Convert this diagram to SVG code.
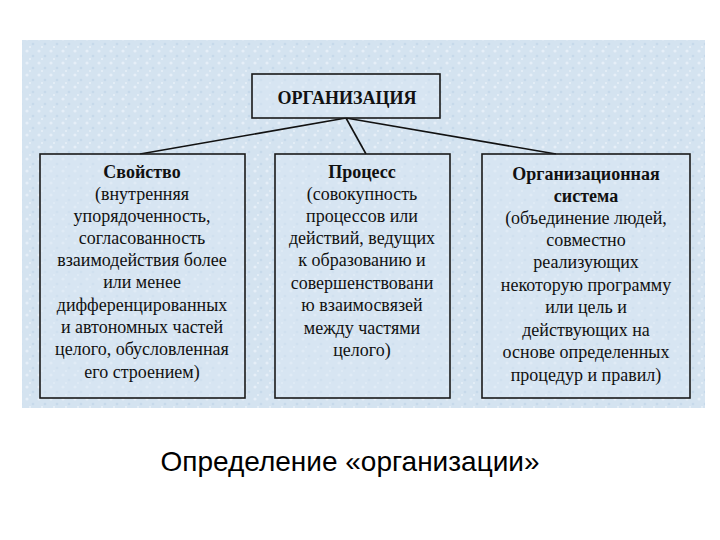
<svg xmlns="http://www.w3.org/2000/svg" width="720" height="540" viewBox="0 0 720 540">
<defs>
<pattern id="tex" width="12" height="12" patternUnits="userSpaceOnUse">
<rect width="12" height="12" fill="#d4e3f0"/>
<circle cx="3" cy="3" r="1.6" fill="#e6eff8"/>
<circle cx="9" cy="8" r="1.3" fill="#c6d9ea"/>
<circle cx="6" cy="11" r="1" fill="#e9f1f9"/>
</pattern>
<style>
.box{fill:#dae7f3;fill-opacity:0.5;stroke:#1a1a1a;stroke-width:1.6}
.t{font-family:"Liberation Serif","Times New Roman",serif;font-size:18px;fill:#111;text-anchor:middle}
.b{font-weight:bold}
.con{stroke:#111;stroke-width:1.6;fill:none}
.cap{font-family:"Liberation Sans",Arial,sans-serif;font-size:28px;fill:#000;text-anchor:middle}
</style>
</defs>
<rect width="720" height="540" fill="#ffffff"/>
<rect x="22" y="40" width="683" height="368" fill="url(#tex)"/>
<g id="connectors">
<line class="con" x1="346" y1="118" x2="140" y2="154"/>
<line class="con" x1="346" y1="118" x2="366" y2="154"/>
<line class="con" x1="346" y1="118" x2="556" y2="154"/>
</g>
<g id="organizatsiya">
<rect class="box" x="252" y="74" width="188" height="44"/>
<text class="t b" x="347" y="104" font-size="22">ОРГАНИЗАЦИЯ</text>
</g>
<g id="svoistvo">
<rect class="box" x="40" y="154" width="205" height="244"/>
<text class="t b" x="142" y="178">Свойство</text>
<text class="t" x="142" y="200">(внутренняя</text>
<text class="t" x="142" y="222">упорядоченность,</text>
<text class="t" x="142" y="244">согласованность</text>
<text class="t" x="142" y="266">взаимодействия более</text>
<text class="t" x="142" y="288">или менее</text>
<text class="t" x="142" y="311">дифференцированных</text>
<text class="t" x="142" y="333">и автономных частей</text>
<text class="t" x="142" y="355">целого, обусловленная</text>
<text class="t" x="142" y="378">его строением)</text>
</g>
<g id="protsess">
<rect class="box" x="275" y="154" width="175" height="244"/>
<text class="t b" x="362" y="178">Процесс</text>
<text class="t" x="362" y="200">(совокупность</text>
<text class="t" x="362" y="222">процессов или</text>
<text class="t" x="362" y="244">действий, ведущих</text>
<text class="t" x="362" y="266">к образованию и</text>
<text class="t" x="362" y="289">совершенствовани</text>
<text class="t" x="362" y="311">ю взаимосвязей</text>
<text class="t" x="362" y="334">между частями</text>
<text class="t" x="362" y="356">целого)</text>
</g>
<g id="sistema">
<rect class="box" x="482" y="154" width="208" height="244"/>
<text class="t b" x="586" y="180">Организационная</text>
<text class="t b" x="586" y="202">система</text>
<text class="t" x="586" y="224">(объединение людей,</text>
<text class="t" x="586" y="246">совместно</text>
<text class="t" x="586" y="268">реализующих</text>
<text class="t" x="586" y="291">некоторую программу</text>
<text class="t" x="586" y="313">или цель и</text>
<text class="t" x="586" y="336">действующих на</text>
<text class="t" x="586" y="358">основе определенных</text>
<text class="t" x="586" y="381">процедур и правил)</text>
</g>
<text class="cap" x="350" y="471">Определение «организации»</text>
</svg>
